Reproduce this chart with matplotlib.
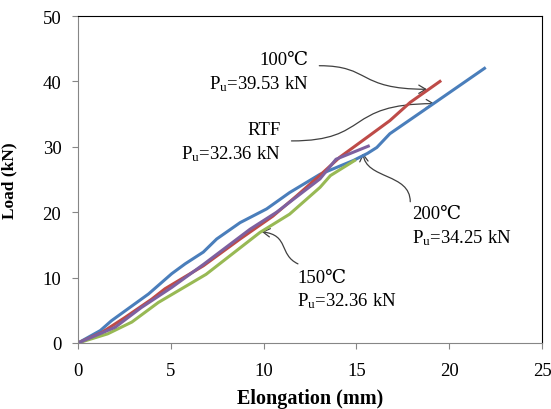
import matplotlib
matplotlib.use("Agg")
import matplotlib.pyplot as plt
from matplotlib.path import Path
from matplotlib.patches import FancyArrowPatch

plt.rcParams['font.family'] = ['Liberation Serif', 'DejaVu Serif', 'Noto Sans CJK SC']
plt.rcParams['mathtext.fontset'] = 'custom'
plt.rcParams['mathtext.rm'] = 'Liberation Serif'
plt.rcParams['mathtext.it'] = 'Liberation Serif:italic'

# RTF (blue)
rtf_x = [0, 1.2, 1.8, 3.8, 5.05, 5.77, 6.75, 7.47, 8.73, 10.16, 11.4, 13.04, 14.83, 15.6, 16.1, 16.8, 19.1, 21.9]
rtf_y = [0, 1.9, 3.4, 7.5, 10.6, 12.1, 13.9, 15.9, 18.4, 20.5, 23.0, 25.8, 27.9, 29.0, 29.9, 32.0, 36.5, 42.0]
# 100 C (red)
c100_x = [0, 1.28, 2.53, 3.97, 4.69, 6.75, 8.73, 10.5, 11.78, 12.9, 14.1, 15.55, 16.8, 17.9, 19.5]
c100_y = [0, 1.6, 3.9, 6.7, 8.3, 11.8, 15.9, 19.4, 22.5, 25.3, 28.4, 31.4, 34.0, 36.8, 40.0]
# 150 C (green)
c150_x = [0, 1.6, 2.9, 4.33, 6.9, 9.8, 11.4, 13.04, 13.6, 14.9]
c150_y = [0, 1.4, 3.2, 6.2, 10.5, 16.9, 19.7, 23.8, 25.6, 27.9]
# 200 C (purple)
c200_x = [0, 2.0, 3.4, 5.05, 6.75, 9.27, 10.7, 13.04, 13.9, 15.64]
c200_y = [0, 2.4, 5.4, 8.5, 12.0, 17.4, 20.0, 25.1, 28.1, 30.1]

fig = plt.figure(figsize=(5.51, 4.10), dpi=100)
ax = fig.add_axes([0.1416, 0.161, 0.8421, 0.7975])

ax.plot(rtf_x, rtf_y, color='#4A7EBB', lw=2.2)
ax.plot(c100_x, c100_y, color='#BE4B48', lw=2.2)
ax.plot(c150_x, c150_y, color='#98B954', lw=2.2)
ax.plot(c200_x, c200_y, color='#7D60A0', lw=2.2)

ax.set_xlim(0, 25)
ax.set_ylim(0, 50)
ax.set_xticks([0, 5, 10, 15, 20, 25])
ax.set_yticks([0, 10, 20, 30, 40, 50])
ax.tick_params(direction='out', length=4, color='#868686', labelsize=13.5)
ax.tick_params(axis='x', pad=10)
ax.tick_params(axis='y', pad=8)
for s in ['left', 'bottom']:
    ax.spines[s].set_color('#868686')
for s in ['top', 'right']:
    ax.spines[s].set_color('black')
ax.set_xlabel('Elongation (mm)', fontsize=14.5, fontweight='bold')
ax.set_ylabel('Load (kN)', fontsize=12.5, fontweight='bold')
ax.xaxis.set_label_coords(0.5, -0.138)
ax.yaxis.set_label_coords(-0.130, 0.5)

def curve(pts):
    path = Path(pts, [Path.MOVETO, Path.CURVE4, Path.CURVE4, Path.CURVE4])
    a = FancyArrowPatch(path=path, arrowstyle='->,head_length=5,head_width=3',
                        color='#404040', lw=0.9, transform=ax.transData)
    ax.add_patch(a)

curve([(13.0, 42.4), (15.8, 42.4), (15.0, 38.8), (18.8, 38.8)])
curve([(11.5, 30.9), (15.8, 30.9), (14.3, 36.6), (19.2, 36.6)])
curve([(17.9, 21.6), (17.9, 26.0), (15.5, 25.0), (15.36, 29.0)])
curve([(11.85, 12.1), (10.8, 13.5), (11.4, 16.5), (9.9, 17.0)])

fs = 13.5
ax.text(12.4, 43.3, '100℃', ha='right', va='center', fontsize=fs)
ax.text(12.4, 39.7, 'P$_{\\mathrm{u}}$=39.53 kN', ha='right', va='center', fontsize=fs)
ax.text(10.9, 32.6, 'RTF', ha='right', va='center', fontsize=fs)
ax.text(10.9, 29.0, 'P$_{\\mathrm{u}}$=32.36 kN', ha='right', va='center', fontsize=fs)
ax.text(18.0, 19.8, '200℃', ha='left', va='center', fontsize=fs)
ax.text(18.0, 16.2, 'P$_{\\mathrm{u}}$=34.25 kN', ha='left', va='center', fontsize=fs)
ax.text(11.8, 10.0, '150℃', ha='left', va='center', fontsize=fs)
ax.text(11.8, 6.6, 'P$_{\\mathrm{u}}$=32.36 kN', ha='left', va='center', fontsize=fs)

fig.savefig('out.png', dpi=100)
